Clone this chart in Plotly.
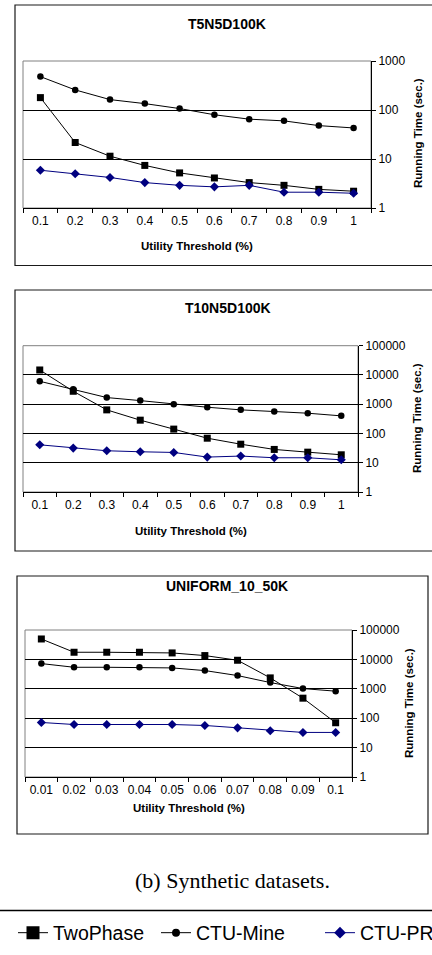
import plotly.graph_objects as go

# ---------------- data ----------------
cats_t5 = ["0.1", "0.2", "0.3", "0.4", "0.5", "0.6", "0.7", "0.8", "0.9", "1"]
t5_twophase = [179, 21.7, 11.4, 7.4, 5.2, 4.1, 3.3, 2.9, 2.4, 2.2]
t5_ctumine = [480, 257, 163, 135, 107, 80, 65, 60, 48, 43]
t5_ctupro = [5.9, 5.0, 4.2, 3.3, 2.9, 2.7, 2.9, 2.1, 2.1, 2.0]

cats_t10 = ["0.1", "0.2", "0.3", "0.4", "0.5", "0.6", "0.7", "0.8", "0.9", "1"]
t10_twophase = [14800, 2770, 641, 285, 141, 69, 43, 28.5, 23, 18.7]
t10_ctumine = [6080, 3240, 1690, 1330, 1000, 790, 641, 563, 493, 400]
t10_ctupro = [41, 31.6, 25.7, 23.7, 22.5, 15.6, 16.9, 14.8, 14.8, 12.6]

cats_uni = ["0.01", "0.02", "0.03", "0.04", "0.05", "0.06", "0.07", "0.08", "0.09", "0.1"]
uni_twophase = [49500, 17500, 17500, 17500, 16600, 13500, 9350, 2350, 480, 70]
uni_ctumine = [7200, 5400, 5400, 5400, 5130, 4170, 2820, 1630, 1020, 830]
uni_ctupro = [71.6, 61, 61, 61, 61, 56.6, 47, 37.3, 32.8, 32.8]

yticks_3dec = [1, 10, 100, 1000]
yticks_5dec = [1, 10, 100, 1000, 10000, 100000]

titles = ["T5N5D100K", "T10N5D100K", "UNIFORM_10_50K"]
series_names = ["TwoPhase", "CTU-Mine", "CTU-PRO"]
x_title = "Utility Threshold (%)"
y_title = "Running Time (sec.)"
caption = "(b) Synthetic datasets."

# ---------------- layout helpers ----------------
W, H = 432, 955
FONT = "Liberation Sans, Arial, sans-serif"

def px(x):
    return x / W

def py(y):
    return 1 - y / H

panels = [
    dict(cats=cats_t5, data=[t5_twophase, t5_ctumine, t5_ctupro], yt=yticks_3dec,
         plot=(23, 61, 371, 208), frame=(15, 5, 445, 265.5),
         title=(227, 24), xt=(197, 246), yl=(418, 133)),
    dict(cats=cats_t10, data=[t10_twophase, t10_ctumine, t10_ctupro], yt=yticks_5dec,
         plot=(23, 345.7, 358, 492), frame=(15, 290, 445, 551),
         title=(228, 308), xt=(191, 531), yl=(417, 418)),
    dict(cats=cats_uni, data=[uni_twophase, uni_ctumine, uni_ctupro], yt=yticks_5dec,
         plot=(25, 630, 352, 777), frame=(17, 576, 428, 834),
         title=(227, 586), xt=(189, 808), yl=(409, 703)),
]

styles = [
    dict(color="black", symbol="square", size=7, lsize=13),
    dict(color="black", symbol="circle", size=6.5, lsize=8),
    dict(color="#000080", symbol="diamond", size=7, lsize=9),
]
legend_ids = ["legend", "legend2", "legend3"]

fig = go.Figure()
shapes = []
annotations = []
layout = {}

for i, p in enumerate(panels):
    n = "" if i == 0 else str(i + 1)
    xa, ya = "x" + n, "y" + n
    for k, (vals, st) in enumerate(zip(p["data"], styles)):
        fig.add_trace(go.Scatter(
            x=p["cats"], y=vals, xaxis=xa, yaxis=ya, mode="lines+markers",
            name=series_names[k], showlegend=False,
            line=dict(color=st["color"], width=1),
            marker=dict(color=st["color"], symbol=st["symbol"], size=st["size"]),
            cliponaxis=False,
        ))
    x0, y0, x1, y1 = p["plot"]
    layout["xaxis" + n] = dict(
        domain=[px(x0), px(x1)], anchor=ya, type="category", range=[-0.5, 9.5],
        showline=True, linecolor="black", linewidth=1, ticks="outside",
        tickson="boundaries", ticklen=4, tickcolor="black", showgrid=False,
        tickfont=dict(family=FONT, size=12, color="black"), ticklabelstandoff=2,
    )
    ndec = len(p["yt"]) - 1
    layout["yaxis" + n] = dict(
        domain=[py(y1), py(y0)], anchor=xa, type="log", range=[0, ndec], side="right",
        showline=True, linecolor="black", linewidth=1, ticks="outside", ticklen=4,
        tickcolor="black", showgrid=True, gridcolor="black", gridwidth=1,
        tickvals=p["yt"], ticktext=[str(v) for v in p["yt"]],
        tickfont=dict(family=FONT, size=12, color="black"), zeroline=False,
    )
    # plot area border (grey)
    shapes.append(dict(type="rect", xref="paper", yref="paper", x0=px(x0), x1=px(x1),
                       y0=py(y1), y1=py(y0), line=dict(color="#808080", width=1), layer="below"))
    # outer frame
    fx0, fy0, fx1, fy1 = p["frame"]
    shapes.append(dict(type="rect", xref="paper", yref="paper", x0=px(fx0), x1=px(fx1),
                       y0=py(fy1), y1=py(fy0), line=dict(color="#1a1a1a", width=1.2)))
    annotations.append(dict(text="<b>%s</b>" % titles[i], x=px(p["title"][0]), y=py(p["title"][1]),
                            xref="paper", yref="paper", showarrow=False, xanchor="center", yanchor="middle",
                            font=dict(family=FONT, size=14, color="black")))
    annotations.append(dict(text="<b>%s</b>" % x_title, x=px(p["xt"][0]), y=py(p["xt"][1]),
                            xref="paper", yref="paper", showarrow=False, xanchor="center", yanchor="middle",
                            font=dict(family=FONT, size=11.5, color="black")))
    annotations.append(dict(text="<b>%s</b>" % y_title, x=px(p["yl"][0]), y=py(p["yl"][1]),
                            xref="paper", yref="paper", showarrow=False, xanchor="center", yanchor="middle",
                            textangle=-90, font=dict(family=FONT, size=11.5, color="black")))

# legend-only entries (larger legend symbols, as in the reference)
for k, st in enumerate(styles):
    fig.add_trace(go.Scatter(
        x=[None], y=[None], mode="lines+markers", name=series_names[k],
        legend=legend_ids[k], showlegend=True,
        line=dict(color=st["color"], width=1),
        marker=dict(color=st["color"], symbol=st["symbol"], size=st["lsize"]),
    ))

annotations.append(dict(text=caption, x=px(232), y=py(880), xref="paper", yref="paper",
                        showarrow=False, xanchor="center", yanchor="middle",
                        font=dict(family="Liberation Serif, Times New Roman, serif", size=22, color="black")))
shapes.append(dict(type="line", xref="paper", yref="paper", x0=0, x1=1, y0=py(910.5), y1=py(910.5),
                   line=dict(color="black", width=1.3)))

leg_common = dict(orientation="h", xanchor="left", yanchor="middle", y=py(933),
                  bgcolor="rgba(0,0,0,0)", font=dict(family=FONT, size=19.5, color="black"),
                  itemwidth=30)
layout["legend"] = dict(x=px(13), **leg_common)
layout["legend2"] = dict(x=px(156), **leg_common)
layout["legend3"] = dict(x=px(320), **leg_common)

fig.update_layout(
    width=W, height=H, margin=dict(l=0, r=0, t=0, b=0, autoexpand=False),
    paper_bgcolor="white", plot_bgcolor="white",
    shapes=shapes, annotations=annotations, **layout,
)

fig.write_html("out.html", config={"displayModeBar": False},
               post_script="document.body.style.margin='0';document.body.style.overflow='hidden';")
